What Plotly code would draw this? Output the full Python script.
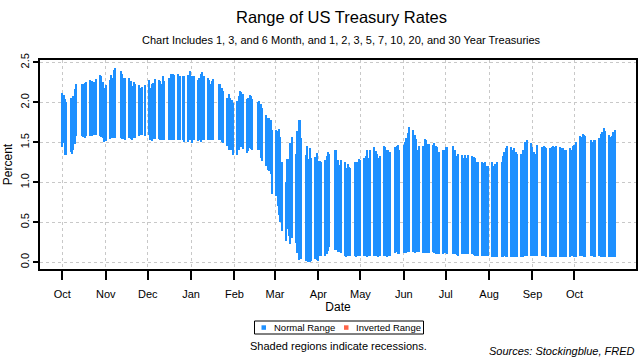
import pandas as pd
import plotly.graph_objects as go

# Business days with treasury data (Oct 2019 - Oct 2020), bond market holidays removed
HOLIDAYS = ["2019-10-14", "2019-11-11", "2019-11-28", "2019-12-25", "2020-01-01",
            "2020-01-20", "2020-02-17", "2020-04-10", "2020-05-25", "2020-07-03",
            "2020-09-07", "2020-10-12"]
START, END = "2019-10-01", "2020-10-30"

# Highest yield of the day (percent), week by week
HIGH = [
    2.12, 2.09, 2.04, 2.01,
    2.05, 2.05, 2.08, 2.17, 2.23,
    2.23, 2.23, 2.24, 2.25,
    2.28, 2.27, 2.25, 2.26, 2.29,
    2.34, 2.33, 2.26, 2.18,
    2.22,
    2.28, 2.34, 2.30, 2.40, 2.43,
    2.39, 2.36, 2.31, 2.31,
    2.30, 2.27, 2.20, 2.25, 2.23,
    2.22, 2.18, 2.19, 2.22,
    2.28, 2.18, 2.23, 2.24, 2.29,
    2.28, 2.27, 2.23, 2.33, 2.27,
    2.30, 2.31, 2.35, 2.35, 2.34,
    2.35, 2.33, 2.33, 2.33,
    2.34, 2.39,
    2.33, 2.33,
    2.28, 2.31, 2.35, 2.38, 2.33,
    2.30, 2.28, 2.23, 2.27, 2.29,
    2.23, 2.23, 2.18, 2.14,
    2.05, 2.10, 2.05, 2.03, 1.99,
    2.02, 2.08, 2.14, 2.13, 2.10,
    2.04, 2.06, 2.09, 2.08, 2.04,
    2.00, 2.02, 1.98, 1.93,
    1.84, 1.80, 1.81, 1.78, 1.66,
    1.65, 1.64, 1.67, 1.57, 1.25,
    1.00, 1.29, 1.29, 1.49, 1.57,
    1.35, 1.64, 1.78, 1.78, 1.55,
    1.34, 1.45, 1.29, 1.43, 1.31,
    1.32, 1.37,
    1.27, 1.27, 1.25,
    1.28, 1.33, 1.38, 1.35,
    1.40, 1.41, 1.28, 1.22, 1.28,
    1.25, 1.18, 1.23, 1.19, 1.18,
    1.25, 1.20, 1.25, 1.29,
    1.28,
    1.30, 1.33, 1.41, 1.31, 1.40,
    1.44, 1.39, 1.35, 1.30, 1.33,
    1.45, 1.44, 1.40, 1.40, 1.38,
    1.44, 1.45, 1.47, 1.41,
    1.47, 1.50, 1.56, 1.62, 1.69,
    1.65, 1.59, 1.54, 1.41, 1.45,
    1.45, 1.54, 1.53, 1.48, 1.48,
    1.47, 1.49, 1.45, 1.44, 1.38,
    1.40, 1.41,
    1.44, 1.44,
    1.45, 1.38, 1.40, 1.33, 1.35,
    1.34, 1.30, 1.34, 1.31, 1.34,
    1.33, 1.32, 1.30, 1.26, 1.25,
    1.26, 1.24, 1.26, 1.20, 1.20,
    1.25, 1.20, 1.23, 1.20, 1.25,
    1.26, 1.33, 1.38, 1.43, 1.45,
    1.44, 1.40, 1.43, 1.38, 1.35,
    1.35, 1.40, 1.41, 1.50, 1.53,
    1.49,
    1.44, 1.38, 1.35, 1.47,
    1.44, 1.45, 1.44, 1.43,
    1.43, 1.44, 1.45, 1.44, 1.45,
    1.44, 1.43, 1.43, 1.40, 1.40,
    1.43, 1.41, 1.45,
    1.47, 1.50,
    1.58, 1.57, 1.60, 1.59, 1.58,
    1.53, 1.50, 1.53, 1.53,
    1.55, 1.60, 1.63, 1.68, 1.64,
    1.59, 1.57, 1.58, 1.63, 1.65,
]

# Lowest yield of the day (percent), week by week
LOW = [
    1.44, 1.49, 1.34, 1.34,
    1.38, 1.35, 1.40, 1.48, 1.58,
    1.58, 1.57, 1.56, 1.58,
    1.58, 1.58, 1.59, 1.59, 1.59,
    1.58, 1.57, 1.56, 1.51,
    1.52,
    1.54, 1.55, 1.56, 1.55, 1.55,
    1.55, 1.54, 1.54, 1.53,
    1.55, 1.54, 1.53, 1.55, 1.56,
    1.58, 1.59, 1.59, 1.58,
    1.59, 1.53, 1.52, 1.54, 1.54,
    1.54, 1.53, 1.53, 1.54, 1.53,
    1.53, 1.53, 1.53, 1.53, 1.53,
    1.53, 1.53, 1.53, 1.51,
    1.51, 1.53,
    1.49, 1.53,
    1.52, 1.53, 1.50, 1.53, 1.53,
    1.53, 1.53, 1.53, 1.53, 1.53,
    1.53, 1.53, 1.51, 1.49,
    1.45, 1.41, 1.40, 1.40, 1.34,
    1.34, 1.41, 1.44, 1.44, 1.42,
    1.37, 1.39, 1.43, 1.42, 1.41,
    1.40, 1.41, 1.30, 1.27,
    1.20, 1.15, 1.14, 1.11, 0.86,
    0.83, 0.70, 0.59, 0.50, 0.39,
    0.27, 0.42, 0.33, 0.23, 0.31,
    0.24, 0.12, 0.03, 0.04, 0.04,
    0.01, 0.01, 0.00, 0.00, 0.02,
    0.04, 0.03,
    0.02, 0.075, 0.075,
    0.075, 0.10, 0.14, 0.19,
    0.15, 0.15, 0.125, 0.125, 0.12,
    0.075, 0.067, 0.075, 0.083, 0.083,
    0.075, 0.067, 0.083, 0.083,
    0.075,
    0.083, 0.075, 0.067, 0.075, 0.075,
    0.083, 0.083, 0.075, 0.067, 0.075,
    0.083, 0.075, 0.067, 0.075, 0.075,
    0.117, 0.125, 0.108, 0.108,
    0.117, 0.117, 0.117, 0.125, 0.125,
    0.125, 0.117, 0.125, 0.133, 0.125,
    0.117, 0.117, 0.125, 0.117, 0.117,
    0.125, 0.117, 0.108, 0.108, 0.108,
    0.108, 0.117,
    0.117, 0.108,
    0.108, 0.108, 0.100, 0.096, 0.083,
    0.100, 0.108, 0.108, 0.108, 0.100,
    0.100, 0.092, 0.083, 0.083, 0.075,
    0.083, 0.083, 0.083, 0.075, 0.075,
    0.067, 0.067, 0.067, 0.067, 0.067,
    0.067, 0.067, 0.075, 0.067, 0.067,
    0.067, 0.067, 0.067, 0.067, 0.067,
    0.067, 0.067, 0.075, 0.083, 0.083,
    0.083,
    0.083, 0.075, 0.083, 0.075,
    0.083, 0.083, 0.075, 0.067,
    0.067, 0.067, 0.067, 0.067, 0.067,
    0.067, 0.067, 0.067, 0.067, 0.067,
    0.067, 0.075, 0.075,
    0.067, 0.067,
    0.075, 0.075, 0.075, 0.067, 0.067,
    0.075, 0.075, 0.067, 0.067,
    0.075, 0.067, 0.067, 0.067, 0.067,
    0.067, 0.067, 0.067, 0.067, 0.067,
]

Y_TICKS = [0.0, 0.5, 1.0, 1.5, 2.0, 2.5]
Y_TICK_TEXT = ["0.0", "0.5", "1.0", "1.5", "2.0", "2.5"]
X_TICKS = ["2019-10-01", "2019-11-01", "2019-12-01", "2020-01-01", "2020-02-01",
           "2020-03-01", "2020-04-01", "2020-05-01", "2020-06-01", "2020-07-01",
           "2020-08-01", "2020-09-01", "2020-10-01"]
X_TICK_TEXT = ["Oct", "Nov", "Dec", "Jan", "Feb", "Mar", "Apr", "May", "Jun",
               "Jul", "Aug", "Sep", "Oct"]
LEGEND_LABELS = ["Normal Range", "Inverted Range"]

dates = pd.bdate_range(START, END)
dates = dates[~dates.isin(pd.to_datetime(HOLIDAYS))]
n = min(len(dates), len(HIGH), len(LOW))
dates = dates[:n]
high = HIGH[:n]
low = LOW[:n]

BLUE = "#1E90FF"
RED = "#FF6347"
FONT = "Liberation Sans, Arial, sans-serif"

# plot area in pixels: left 40, right 636, top 60, bottom 269
def py(pix):
    return (269 - pix) / 209.0

def px(pix):
    return (pix - 40) / 596.0

fig = go.Figure()
fig.add_trace(go.Bar(
    x=dates, y=[h - l for h, l in zip(high, low)], base=low,
    marker=dict(color=BLUE, line=dict(width=0)),
    width=86400000 * 0.95, showlegend=False, name=LEGEND_LABELS[0]))

# hand-drawn compact legend (R style box)
shapes = [
    dict(type="rect", xref="paper", yref="paper", x0=px(254.5), x1=px(423.5),
         y0=py(334), y1=py(321), line=dict(color="black", width=1), fillcolor="white"),
    dict(type="rect", xref="paper", yref="paper", x0=px(261.5), x1=px(266),
         y0=py(329.8), y1=py(325.3), line=dict(width=0), fillcolor=BLUE),
    dict(type="rect", xref="paper", yref="paper", x0=px(344), x1=px(348.5),
         y0=py(329.8), y1=py(325.3), line=dict(width=0), fillcolor=RED),
]

fig.update_layout(
    width=640, height=360,
    margin=dict(l=40, r=4, t=60, b=91, autoexpand=False),
    paper_bgcolor="white", plot_bgcolor="white",
    font=dict(family=FONT, color="black", size=11),
    bargap=0,
    showlegend=False,
    shapes=shapes,
    xaxis=dict(
        type="date",
        range=["2019-09-15", "2020-11-14"],
        tickmode="array", tickvals=X_TICKS, ticktext=X_TICK_TEXT,
        ticks="outside", ticklen=9, tickwidth=1.5, tickcolor="black",
        ticklabelstandoff=5,
        showgrid=True, gridcolor="#C8C8C8", griddash="dot", gridwidth=1,
        showline=True, linecolor="black", linewidth=1.5, mirror=True,
        zeroline=False,
        title=dict(text="Date", font=dict(size=12), standoff=0),
        tickfont=dict(size=11),
    ),
    yaxis=dict(
        range=[-0.084, 2.53],
        tickmode="array", tickvals=Y_TICKS, ticktext=Y_TICK_TEXT,
        tickangle=-90,
        ticks="outside", ticklen=5, tickwidth=1.5, tickcolor="black",
        showgrid=True, gridcolor="#C8C8C8", griddash="dot", gridwidth=1,
        showline=True, linecolor="black", linewidth=1.5, mirror=True,
        zeroline=False,
        title=dict(text="Percent", font=dict(size=12), standoff=4),
        tickfont=dict(size=11),
    ),
    annotations=[
        dict(text="Range of US Treasury Rates", x=px(341), y=py(17), xref="paper",
             yref="paper", showarrow=False, font=dict(size=16.5),
             xanchor="center", yanchor="middle"),
        dict(text="Chart Includes 1, 3, and 6 Month, and 1, 2, 3, 5, 7, 10, 20, and 30 Year Treasuries",
             x=px(341), y=py(40), xref="paper", yref="paper", showarrow=False,
             font=dict(size=11), xanchor="center", yanchor="middle"),
        dict(text=LEGEND_LABELS[0], x=px(272), y=py(327.5), xref="paper", yref="paper",
             showarrow=False, font=dict(size=9.5), xanchor="left", yanchor="middle"),
        dict(text=LEGEND_LABELS[1], x=px(354), y=py(327.5), xref="paper", yref="paper",
             showarrow=False, font=dict(size=9.5), xanchor="left", yanchor="middle"),
        dict(text="Shaded regions indicate recessions.", x=px(338), y=py(346),
             xref="paper", yref="paper", showarrow=False, font=dict(size=11),
             xanchor="center", yanchor="middle"),
        dict(text="<i>Sources: Stockingblue, FRED</i>", x=px(637), y=py(351),
             xref="paper", yref="paper", showarrow=False, font=dict(size=11),
             xanchor="right", yanchor="middle"),
    ],
)

fig.write_html("out.html", config={"displayModeBar": False},
               post_script="document.body.style.margin='0';document.body.style.padding='0';")
